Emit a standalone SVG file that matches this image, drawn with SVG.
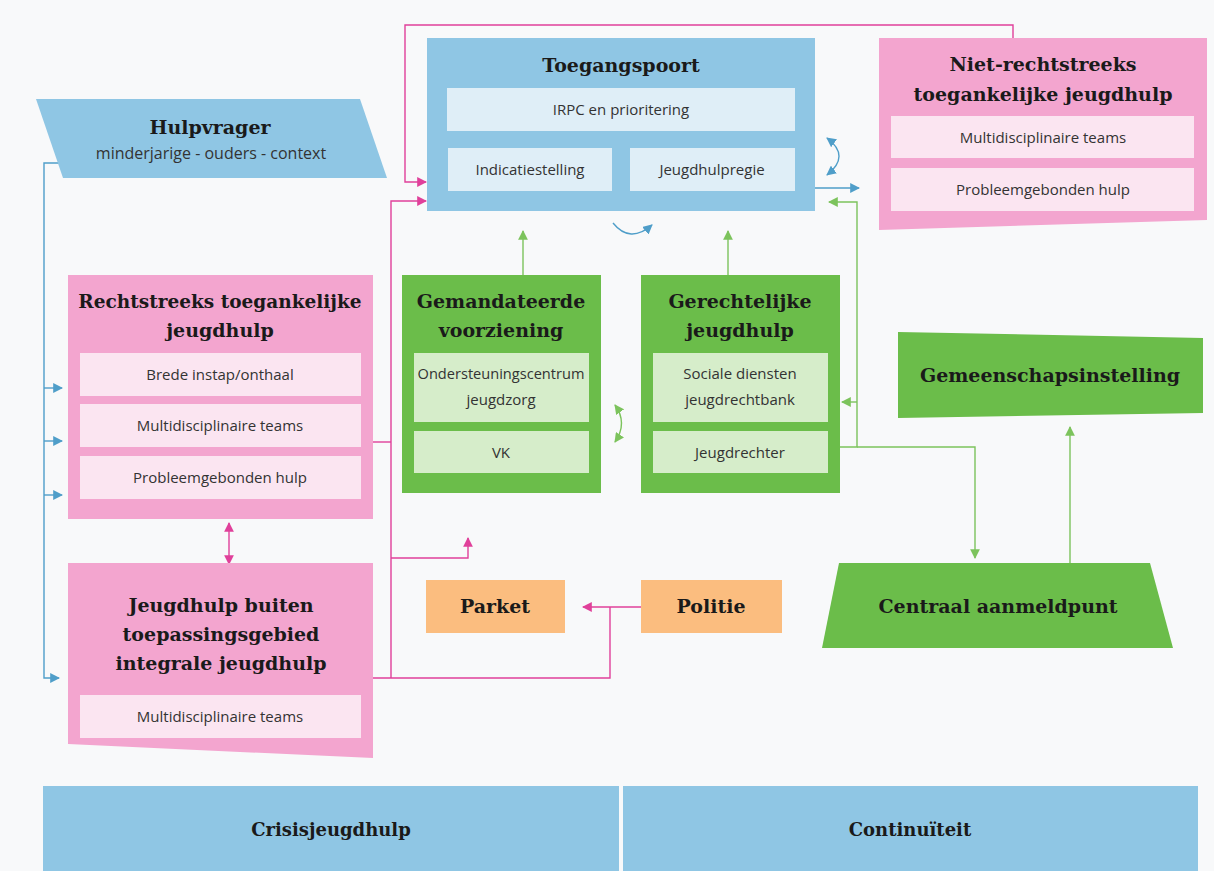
<svg xmlns="http://www.w3.org/2000/svg" width="1214" height="871" viewBox="0 0 1214 871">
<defs>
<style>
.bg{fill:#f8f9fa}
.blue{fill:#8fc6e4}
.bluesub{fill:#dfeef7}
.pink{fill:#f3a5cf}
.pinksub{fill:#fbe5f1}
.green{fill:#6bbd4a}
.greensub{fill:#d6edca}
.orange{fill:#fbbd7f}
.t{font-family:"DejaVu Serif","Liberation Serif",serif;font-weight:bold;fill:#1a1a1a;text-anchor:middle}
.s{font-family:"Open Sans","Noto Sans","Liberation Sans",sans-serif;font-size:15px;fill:#333;text-anchor:middle}
.lp{fill:none;stroke:#e0409a;stroke-width:1.4}
.lb{fill:none;stroke:#4f9ec9;stroke-width:1.4}
.lg{fill:none;stroke:#7cc35c;stroke-width:1.4}
</style>
<marker id="ap" viewBox="0 0 10 10" refX="9" refY="5" markerWidth="7" markerHeight="7" orient="auto-start-reverse"><path d="M0,0 L10,5 L0,10 z" fill="#e0409a"/></marker>
<marker id="ab" viewBox="0 0 10 10" refX="9" refY="5" markerWidth="7" markerHeight="7" orient="auto-start-reverse"><path d="M0,0 L10,5 L0,10 z" fill="#4f9ec9"/></marker>
<marker id="ag" viewBox="0 0 10 10" refX="9" refY="5" markerWidth="7" markerHeight="7" orient="auto-start-reverse"><path d="M0,0 L10,5 L0,10 z" fill="#7cc35c"/></marker>
</defs>
<rect class="bg" x="0" y="0" width="1214" height="871"/>

<g id="connectors">
<polyline class="lb" points="60,163 44,163 44,678 59,678" marker-end="url(#ab)"/>
<line class="lb" x1="44" y1="388" x2="62" y2="388" marker-end="url(#ab)"/>
<line class="lb" x1="44" y1="441" x2="62" y2="441" marker-end="url(#ab)"/>
<line class="lb" x1="44" y1="495" x2="62" y2="495" marker-end="url(#ab)"/>
<polyline class="lp" points="1013,38 1013,25 405,25 405,182 426,182" marker-end="url(#ap)"/>
<polyline class="lp" points="391,678 391,201 426,201" marker-end="url(#ap)"/>
<line class="lp" x1="373" y1="442" x2="391" y2="442"/>
<polyline class="lp" points="391,558 468,558 468,538" marker-end="url(#ap)"/>
<polyline class="lp" points="373,678 610,678 610,607"/>
<line class="lp" x1="641" y1="607" x2="583" y2="607" marker-end="url(#ap)"/>
<line class="lp" x1="229" y1="523" x2="229" y2="564" marker-start="url(#ap)" marker-end="url(#ap)"/>
<line class="lb" x1="815" y1="188" x2="859" y2="188" marker-end="url(#ab)"/>
<path class="lb" d="M827,138 Q851,156 827,175" marker-start="url(#ab)" marker-end="url(#ab)"/>
<path class="lb" d="M613,223 Q630,244 652,225" marker-end="url(#ab)"/>
<line class="lg" x1="523" y1="275" x2="523" y2="231" marker-end="url(#ag)"/>
<line class="lg" x1="728" y1="275" x2="728" y2="231" marker-end="url(#ag)"/>
<polyline class="lg" points="840,447 857,447 857,202 829,202" marker-end="url(#ag)"/>
<line class="lg" x1="857" y1="402" x2="842" y2="402" marker-end="url(#ag)"/>
<polyline class="lg" points="857,447 975,447 975,558" marker-end="url(#ag)"/>
<line class="lg" x1="1070" y1="563" x2="1070" y2="427" marker-end="url(#ag)"/>
<path class="lg" d="M615,405 Q628,423 615,442" marker-start="url(#ag)" marker-end="url(#ag)"/>
</g>

<g id="hulpvrager">
<polygon class="blue" points="36,99 360,99 387,178 63,178"/>
<text class="t" x="210" y="134" font-size="19">Hulpvrager</text>
<text class="s" x="211" y="159" font-size="16" style="font-size:16px">minderjarige - ouders - context</text>
</g>

<g id="toegangspoort">
<rect class="blue" x="427" y="38" width="388" height="173"/>
<text class="t" x="621" y="72" font-size="19">Toegangspoort</text>
<rect class="bluesub" x="447" y="88" width="348" height="43"/>
<text class="s" x="621" y="115">IRPC en prioritering</text>
<rect class="bluesub" x="448" y="148" width="164" height="43"/>
<text class="s" x="530" y="175">Indicatiestelling</text>
<rect class="bluesub" x="630" y="148" width="165" height="43"/>
<text class="s" x="712" y="175">Jeugdhulpregie</text>
</g>

<g id="niet-rechtstreeks">
<polygon class="pink" points="879,38 1207,38 1207,220 879,230"/>
<text class="t" x="1043" y="71" font-size="19">Niet-rechtstreeks</text>
<text class="t" x="1043" y="101" font-size="19">toegankelijke jeugdhulp</text>
<rect class="pinksub" x="891" y="116" width="303" height="42"/>
<text class="s" x="1043" y="143">Multidisciplinaire teams</text>
<rect class="pinksub" x="891" y="168" width="303" height="43"/>
<text class="s" x="1043" y="195">Probleemgebonden hulp</text>
</g>

<g id="rechtstreeks">
<rect class="pink" x="68" y="275" width="305" height="244"/>
<text class="t" x="220" y="308" font-size="18.5">Rechtstreeks toegankelijke</text>
<text class="t" x="220" y="337" font-size="19">jeugdhulp</text>
<rect class="pinksub" x="80" y="353" width="281" height="43"/>
<text class="s" x="220" y="380">Brede instap/onthaal</text>
<rect class="pinksub" x="80" y="404" width="281" height="43"/>
<text class="s" x="220" y="431">Multidisciplinaire teams</text>
<rect class="pinksub" x="80" y="456" width="281" height="43"/>
<text class="s" x="220" y="483">Probleemgebonden hulp</text>
</g>

<g id="gemandateerde">
<rect class="green" x="402" y="275" width="199" height="218"/>
<text class="t" x="501" y="308" font-size="19">Gemandateerde</text>
<text class="t" x="501" y="337" font-size="19">voorziening</text>
<rect class="greensub" x="414" y="353" width="175" height="69"/>
<text class="s" x="501" y="379" style="font-size:14.6px">Ondersteuningscentrum</text>
<text class="s" x="501" y="405">jeugdzorg</text>
<rect class="greensub" x="414" y="431" width="175" height="42"/>
<text class="s" x="501" y="458">VK</text>
</g>

<g id="gerechtelijke">
<rect class="green" x="641" y="275" width="199" height="218"/>
<text class="t" x="740" y="308" font-size="19">Gerechtelijke</text>
<text class="t" x="740" y="337" font-size="19">jeugdhulp</text>
<rect class="greensub" x="653" y="353" width="175" height="69"/>
<text class="s" x="740" y="379">Sociale diensten</text>
<text class="s" x="740" y="405">jeugdrechtbank</text>
<rect class="greensub" x="653" y="431" width="175" height="42"/>
<text class="s" x="740" y="458">Jeugdrechter</text>
</g>

<g id="gemeenschapsinstelling">
<polygon class="green" points="898,332 1203,338 1203,413 898,418"/>
<text class="t" x="1050" y="382" font-size="19">Gemeenschapsinstelling</text>
</g>

<g id="centraal">
<polygon class="green" points="839,563 1150,563 1173,648 822,648"/>
<text class="t" x="998" y="613" font-size="19">Centraal aanmeldpunt</text>
</g>

<g id="jeugdhulp-buiten">
<polygon class="pink" points="68,563 373,563 373,758 68,744"/>
<text class="t" x="221" y="612" font-size="19">Jeugdhulp buiten</text>
<text class="t" x="221" y="641" font-size="19">toepassingsgebied</text>
<text class="t" x="221" y="670" font-size="19">integrale jeugdhulp</text>
<rect class="pinksub" x="80" y="695" width="281" height="43"/>
<text class="s" x="220" y="722">Multidisciplinaire teams</text>
</g>

<g id="parket">
<rect class="orange" x="426" y="580" width="139" height="53"/>
<text class="t" x="495" y="613" font-size="19">Parket</text>
</g>

<g id="politie">
<rect class="orange" x="641" y="580" width="141" height="53"/>
<text class="t" x="711" y="613" font-size="19">Politie</text>
</g>

<g id="crisisjeugdhulp">
<rect class="blue" x="43" y="786" width="576" height="85"/>
<text class="t" x="331" y="836" font-size="18">Crisisjeugdhulp</text>
</g>

<g id="continuiteit">
<rect class="blue" x="623" y="786" width="575" height="85"/>
<text class="t" x="910" y="836" font-size="18">Continuïteit</text>
</g>
</svg>
